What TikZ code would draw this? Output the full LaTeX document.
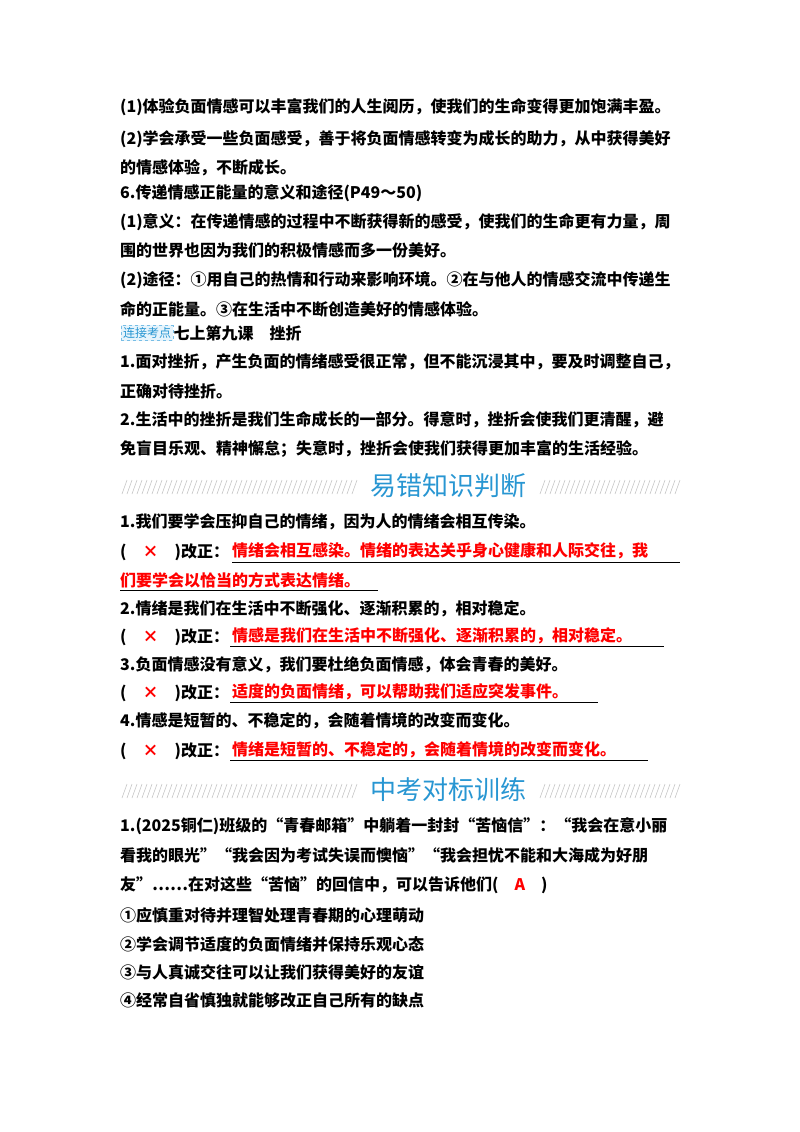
\documentclass[tikz,border=0pt]{standalone}
\usepackage{fontspec}
\setmainfont{Liberation Serif}
\newfontfamily\cjk{Noto Sans CJK SC}
\begin{document}
\begin{tikzpicture}[x=1pt,y=-1pt,
 t/.style={anchor=west,inner sep=0,font=\cjk\bfseries\fontsize{16}{20}\selectfont},
 r/.style={t,text=red},
 ban/.style={anchor=center,inner sep=0,text={rgb,255:red,40;green,150;blue,210},font=\cjk\fontsize{26}{30}\selectfont}]
\useasboundingbox (0,0) rectangle (800,1132);
\node[t] (a1) at (120,107) {(1)体验负面情感可以丰富我们的人生阅历，使我们的生命变得更加饱满丰盈。};
\node[t] (a2) at (120,139) {(2)学会承受一些负面感受，善于将负面情感转变为成长的助力，从中获得美好};
\node[t] (a3) at (120,168) {的情感体验，不断成长。};
\node[t] (a4) at (120,193) {6.传递情感正能量的意义和途径(P49～50)};
\node[t] (a5) at (120,222) {(1)意义：在传递情感的过程中不断获得新的感受，使我们的生命更有力量，周};
\node[t] (a6) at (120,250) {围的世界也因为我们的积极情感而多一份美好。};
\node[t] (a7) at (120,280) {(2)途径：①用自己的热情和行动来影响环境。②在与他人的情感交流中传递生};
\node[t] (a8) at (120,309) {命的正能量。③在生活中不断创造美好的情感体验。};
\node[anchor=west,inner sep=2pt,draw={rgb,255:red,120;green,190;blue,230},dashed,fill={rgb,255:red,230;green,244;blue,252},text={rgb,255:red,40;green,150;blue,210},font=\cjk\fontsize{12}{13}\selectfont] (tag) at (121,333) {连接考点};
\node[t] (a9) at (tag.east) [anchor=west] {七上第九课\quad 挫折};
\node[t] (b1) at (120,362) {1.面对挫折，产生负面的情绪感受很正常，但不能沉浸其中，要及时调整自己，};
\node[t] (b2) at (120,391) {正确对待挫折。};
\node[t] (b3) at (120,420) {2.生活中的挫折是我们生命成长的一部分。得意时，挫折会使我们更清醒，避};
\node[t] (b4) at (120,449) {免盲目乐观、精神懈怠；失意时，挫折会使我们获得更加丰富的生活经验。};
\foreach \x in {122,127,...,355} \draw[gray!45,line width=0.6] (\x,494)--(\x+5,480);
\foreach \x in {540,545,...,675} \draw[gray!45,line width=0.6] (\x,494)--(\x+5,480);
\node[ban] (h1) at (448,486) {易错知识判断};
\node[t] (c1) at (120,522) {1.我们要学会压抑自己的情绪，因为人的情绪会相互传染。};
\node[t] (c2) at (120,552) {(\quad\textcolor{red}{×}\quad )改正：};
\node[r] (c3) at (232,551) {情绪会相互感染。情绪的表达关乎身心健康和人际交往，我};
\node[r] (c4) at (120,580) {们要学会以恰当的方式表达情绪。};
\draw (232,562)--(680,562); \draw (120,590)--(378,590);
\node[t] (d1) at (120,609) {2.情绪是我们在生活中不断强化、逐渐积累的，相对稳定。};
\node[t] (d2) at (120,637) {(\quad\textcolor{red}{×}\quad )改正：};
\node[r] (d3) at (232,636) {情感是我们在生活中不断强化、逐渐积累的，相对稳定。};
\draw (230,646)--(664,646);
\node[t] (e1) at (120,665) {3.负面情感没有意义，我们要杜绝负面情感，体会青春的美好。};
\node[t] (e2) at (120,693) {(\quad\textcolor{red}{×}\quad )改正：};
\node[r] (e3) at (232,692) {适度的负面情绪，可以帮助我们适应突发事件。};
\draw (230,702)--(598,702);
\node[t] (f1) at (120,721) {4.情感是短暂的、不稳定的，会随着情境的改变而变化。};
\node[t] (f2) at (120,751) {(\quad\textcolor{red}{×}\quad )改正：};
\node[r] (f3) at (232,750) {情绪是短暂的、不稳定的，会随着情境的改变而变化。};
\draw (230,760)--(648,760);
\foreach \x in {122,127,...,355} \draw[gray!45,line width=0.6] (\x,798)--(\x+5,784);
\foreach \x in {540,545,...,675} \draw[gray!45,line width=0.6] (\x,798)--(\x+5,784);
\node[ban] (h2) at (448,790) {中考对标训练};
\node[t] (g1) at (120,826) {1.(2025铜仁)班级的“青春邮箱”中躺着一封封“苦恼信”：“我会在意小丽};
\node[t] (g2) at (120,855) {看我的眼光”“我会因为考试失误而懊恼”“我会担忧不能和大海成为好朋};
\node[t] (g3) at (120,885) {友”……在对这些“苦恼”的回信中，可以告诉他们(\quad\textcolor{red}{A}\quad )};
\node[t] (g4) at (120,915) {①应慎重对待并理智处理青春期的心理萌动};
\node[t] (g5) at (120,944) {②学会调节适度的负面情绪并保持乐观心态};
\node[t] (g6) at (120,972) {③与人真诚交往可以让我们获得美好的友谊};
\node[t] (g7) at (120,1000) {④经常自省慎独就能够改正自己所有的缺点};
\end{tikzpicture}
\end{document}
